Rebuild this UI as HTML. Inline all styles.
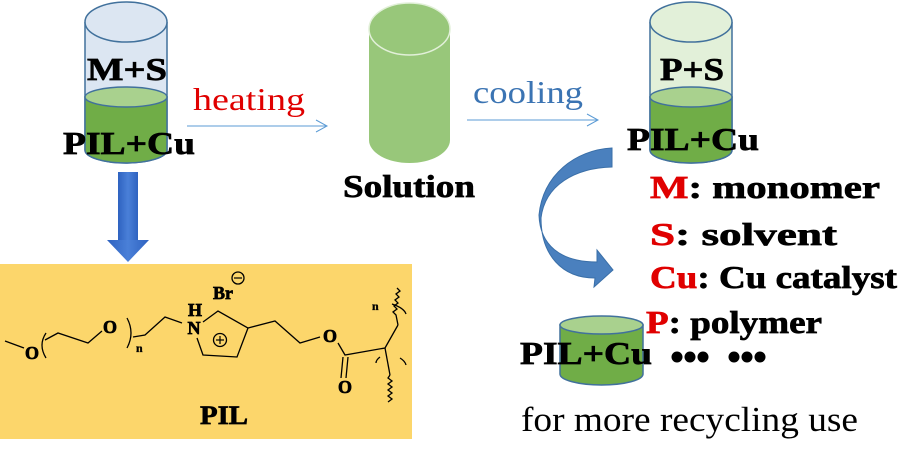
<!DOCTYPE html>
<html><head><meta charset="utf-8"><style>
html,body{margin:0;padding:0;background:#fff;}
svg{display:block;}
text{font-family:"Liberation Serif","DejaVu Serif",serif;}
.b{font-family:"Liberation Serif","DejaVu Serif",serif;font-weight:bold;stroke:#000;stroke-width:0.7;}
</style></head><body>
<svg width="921" height="464" viewBox="0 0 921 464" xmlns="http://www.w3.org/2000/svg">
<defs>
<linearGradient id="g1" x1="0" x2="1" y1="0" y2="0"><stop offset="0" stop-color="#2E62C0"/><stop offset="0.5" stop-color="#4A80D8"/><stop offset="1" stop-color="#2E62C0"/></linearGradient>
</defs>
<!-- cylinder 1 -->
<path d="M85,22 L85,150 A41,13 0 0 0 167,150 L167,22" fill="#DCE6F2" stroke="#41719C" stroke-width="1.5"/>
<path d="M85,97 L85,150 A41,13 0 0 0 167,150 L167,97 Z" fill="#70AD47" stroke="#41719C" stroke-width="1.5"/>
<ellipse cx="126" cy="97" rx="41" ry="10" fill="#A9D18E" stroke="#41719C" stroke-width="1.5"/>
<ellipse cx="126" cy="22" rx="41" ry="20" fill="#DCE6F2" stroke="#41719C" stroke-width="1.5"/>
<text x="87" y="80" class="b" font-size="32" textLength="80" lengthAdjust="spacingAndGlyphs">M+S</text>
<text x="63" y="154" class="b" font-size="32" textLength="132" lengthAdjust="spacingAndGlyphs">PIL+Cu</text>
<!-- heating -->
<text x="193" y="110" fill="#E00000" font-size="32" textLength="112" lengthAdjust="spacingAndGlyphs">heating</text>
<line x1="187" y1="126" x2="327" y2="126" stroke="#5B9BD5" stroke-width="1"/>
<polyline points="316,120 327,126 316,132" fill="none" stroke="#5B9BD5" stroke-width="1"/>
<!-- cylinder 2 -->
<path d="M369,29 L369,140 A40.5,23 0 0 0 450,140 L450,29 Z" fill="#98C77A"/>
<ellipse cx="409.5" cy="29" rx="40.5" ry="26" fill="#98C77A" stroke="#E2F0D9" stroke-width="1.5"/>
<text x="343" y="197" class="b" font-size="32" textLength="132" lengthAdjust="spacingAndGlyphs">Solution</text>
<!-- cooling -->
<text x="473" y="103" fill="#3B74B3" font-size="32" textLength="110" lengthAdjust="spacingAndGlyphs">cooling</text>
<line x1="467" y1="120" x2="598" y2="120" stroke="#5B9BD5" stroke-width="1"/>
<polyline points="587,114 598,120 587,126" fill="none" stroke="#5B9BD5" stroke-width="1"/>
<!-- cylinder 3 -->
<path d="M650,22 L650,150 A41,13 0 0 0 732,150 L732,22" fill="#E2F0D9" stroke="#41719C" stroke-width="1.5"/>
<path d="M650,97 L650,150 A41,13 0 0 0 732,150 L732,97 Z" fill="#70AD47" stroke="#41719C" stroke-width="1.5"/>
<ellipse cx="691" cy="97" rx="41" ry="10" fill="#A9D18E" stroke="#41719C" stroke-width="1.5"/>
<ellipse cx="691" cy="22" rx="41" ry="20" fill="#E2F0D9" stroke="#41719C" stroke-width="1.5"/>
<text x="660" y="80" class="b" font-size="32" textLength="64" lengthAdjust="spacingAndGlyphs">P+S</text>
<text x="627" y="150" class="b" font-size="32" textLength="132" lengthAdjust="spacingAndGlyphs">PIL+Cu</text>
<!-- curved arrow -->
<path d="M612,148 C575,150 543,175 539,215 C540,245 560,262 597,262 L597,250 L613,270 L594,287 L595,278 C562,278 541,255 541,218 C545,185 575,168 612,167 Z" fill="#4A80BE" stroke="#3A6FA8" stroke-width="1"/>
<!-- legend -->
<g font-size="32">
<text x="650" y="198" class="b" textLength="230" lengthAdjust="spacingAndGlyphs"><tspan fill="#E00000" stroke="#E00000">M</tspan>: monomer</text>
<text x="650" y="245" class="b" textLength="187" lengthAdjust="spacingAndGlyphs"><tspan fill="#E00000" stroke="#E00000">S</tspan>:  solvent</text>
<text x="650" y="288" class="b" textLength="247" lengthAdjust="spacingAndGlyphs"><tspan fill="#E00000" stroke="#E00000">Cu</tspan>: Cu catalyst</text>
<text x="646" y="333" class="b" textLength="176" lengthAdjust="spacingAndGlyphs"><tspan fill="#E00000" stroke="#E00000">P</tspan>: polymer</text>
</g>
<!-- cylinder 4 -->
<path d="M560,325 L560,374 A41.5,11 0 0 0 643,374 L643,325 Z" fill="#70AD47" stroke="#41719C" stroke-width="1.5"/>
<ellipse cx="601.5" cy="325" rx="41.5" ry="9" fill="#A9D18E" stroke="#41719C" stroke-width="1.5"/>
<text x="520" y="364" class="b" font-size="32" textLength="132" lengthAdjust="spacingAndGlyphs">PIL+Cu</text>
<g fill="#000"><circle cx="677" cy="357" r="5.5"/><circle cx="690" cy="357" r="5.5"/><circle cx="703" cy="357" r="5.5"/><circle cx="734" cy="357" r="5.5"/><circle cx="747" cy="357" r="5.5"/><circle cx="760" cy="357" r="5.5"/></g>
<text x="521" y="431" font-size="35" textLength="337" lengthAdjust="spacingAndGlyphs">for more recycling use</text>
<!-- blue down arrow -->
<rect x="118" y="172" width="20" height="70" fill="url(#g1)"/>
<polygon points="107,240 149,240 128,262" fill="url(#g1)"/>
<!-- PIL box -->
<rect x="0" y="264" width="412" height="175" fill="#FCD66B"/>
<g stroke="#000" stroke-width="1.3" fill="none">
<polyline points="5,341 24,348"/>
<path d="M46,333 Q38,345 46,358"/>
<polyline points="45,340 58,333 88,343 102,331"/>
<path d="M127,318 Q135,333 127,348"/>
<polyline points="133,337 145,335 165,317 182,323"/>
<polyline points="203,322 218,311 248,328 237,357 203,355 197,338"/>
<circle cx="220" cy="340" r="6.5"/>
<circle cx="238" cy="278" r="6"/>
<polyline points="248,328 275,321 300,343 320,337"/>
<polyline points="338,343 345,355 385,348 398,325"/>
<line x1="343" y1="357" x2="341" y2="378"/><line x1="348" y1="357" x2="346" y2="378"/>
<polyline points="385,348 390,375"/>
<path d="M398,325 L396,315 l-3,-3 l4,-3 l-3,-3 l4,-3 l-3,-3 l4,-3 l-3,-3 l4,-3 l-3,-3"/>
<path d="M390,375 l-2,3 l4,3 l-4,3 l4,3 l-4,3 l4,3 l-4,3 l4,3 l-4,3"/>
<path d="M392,304 Q404,308 406,314"/>
<path d="M376,363 Q376,360 380,357"/><path d="M400,358 Q405,361 406,365"/>
</g>
<line x1="234" y1="278" x2="242" y2="278" stroke="#000" stroke-width="1.2"/>
<line x1="216" y1="340" x2="224" y2="340" stroke="#000" stroke-width="1.2"/><line x1="220" y1="336" x2="220" y2="344" stroke="#000" stroke-width="1.2"/>
<g font-size="18">
<text x="32" y="359" text-anchor="middle" class="b">O</text>
<text x="110" y="333" text-anchor="middle" class="b">O</text>
<text x="195" y="316" text-anchor="middle" class="b">H</text>
<text x="194" y="334" text-anchor="middle" class="b">N</text>
<text x="223" y="299" text-anchor="middle" class="b">Br</text>
<text x="330" y="342" text-anchor="middle" class="b">O</text>
<text x="345" y="393" text-anchor="middle" class="b">O</text>
</g>
<g font-size="12"><text x="136" y="352" class="b" style="stroke-width:0.3">n</text><text x="372" y="310" class="b" style="stroke-width:0.3">n</text></g>
<text x="200" y="424" class="b" font-size="26" textLength="48" lengthAdjust="spacingAndGlyphs">PIL</text>
</svg>
</body></html>
